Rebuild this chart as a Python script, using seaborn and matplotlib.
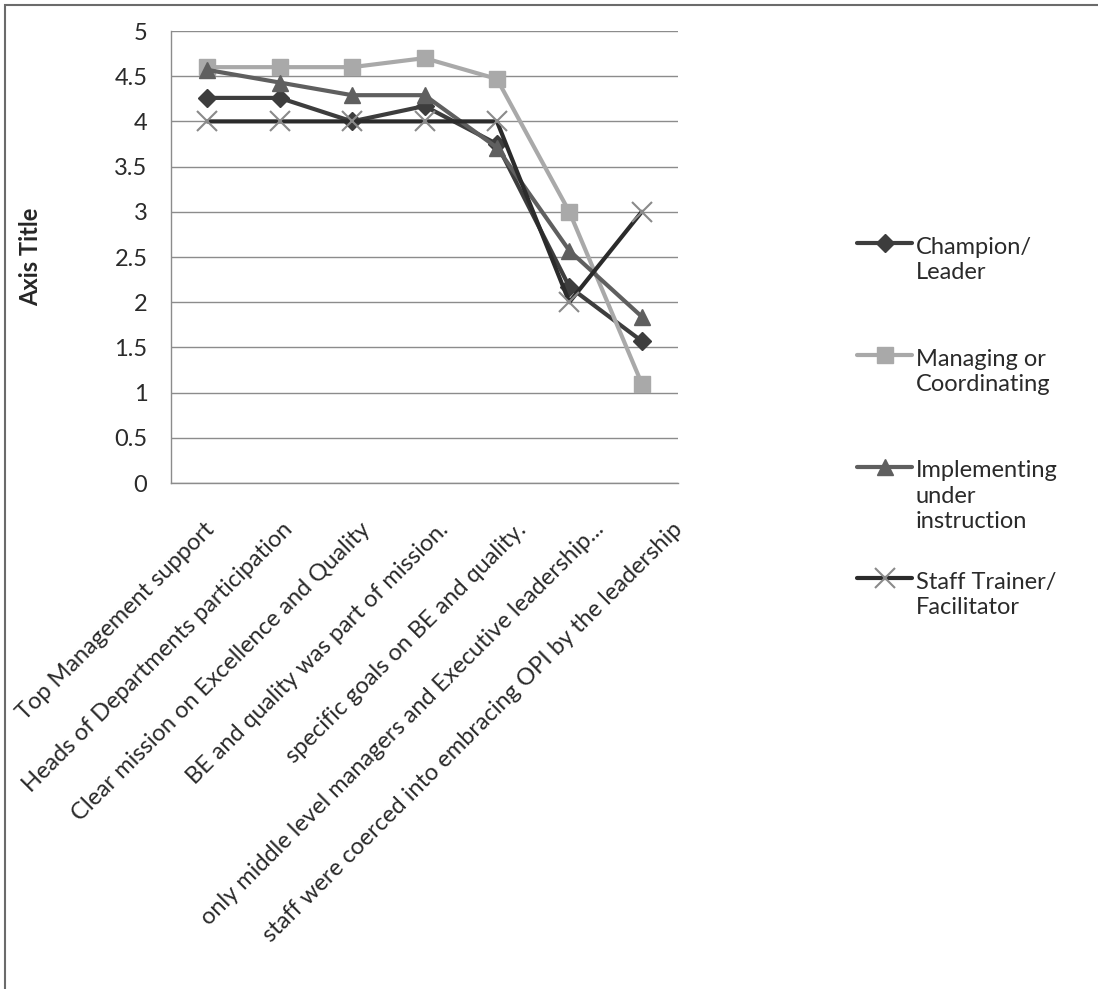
import numpy as np
import pandas as pd
import matplotlib
matplotlib.use('Agg')
import matplotlib.pyplot as plt
import matplotlib.transforms as mtransforms
from matplotlib.patches import Rectangle
from matplotlib.ticker import MultipleLocator, FuncFormatter
import seaborn as sns

# survey items (x categories)
categories = [
    'Top Management support',
    'Heads of Departments participation',
    'Clear mission on Excellence and Quality',
    'BE and quality was part of mission.',
    'specific goals on BE and quality.',
    'only middle level managers and Executive leadership...',
    'staff were coerced into embracing OPI by the leadership',
]

# roles (series) and mean scores
roles = ['Champion/\nLeader', 'Managing or\nCoordinating',
         'Implementing\nunder\ninstruction', 'Staff Trainer/\nFacilitator']
champion = [4.26, 4.26, 4.0, 4.17, 3.75, 2.17, 1.57]
managing = [4.6, 4.6, 4.6, 4.7, 4.47, 3.0, 1.1]
implementing = [4.57, 4.43, 4.29, 4.29, 3.71, 2.57, 1.84]
staff_trainer = [4.0, 4.0, 4.0, 4.0, 4.0, 2.0, 3.0]

colors = {roles[0]: '#3d3d3d', roles[1]: '#a9a9a9',
          roles[2]: '#5f5f5f', roles[3]: '#2b2b2b'}
markers = {roles[0]: 'D', roles[1]: 's', roles[2]: '^', roles[3]: 'x'}
marker_sizes = {roles[0]: 9, roles[1]: 12, roles[2]: 11, roles[3]: 14}

df = pd.DataFrame({
    'category': categories * 4,
    'score': champion + managing + implementing + staff_trainer,
    'role': np.repeat(roles, len(categories)),
})

sns.set_style('white')
plt.rcParams['font.family'] = ['Lato', 'DejaVu Sans']
plt.rcParams['text.color'] = '#2a2a2a'
plt.rcParams['xtick.color'] = '#2a2a2a'
plt.rcParams['ytick.color'] = '#2a2a2a'
fs = 17

fig = plt.figure(figsize=(10.98, 9.89), dpi=100, facecolor='white')
ax = fig.add_axes([171 / 1098, 1 - 483 / 989, 507 / 1098, 452 / 989])

sns.lineplot(data=df, x='category', y='score', hue='role',
             hue_order=roles, palette=colors, linewidth=3, sort=False,
             errorbar=None, legend=False, ax=ax)

# seaborn won't mix filled and line markers, so set them per line
for line, role in zip(ax.lines, roles):
    line.set_marker(markers[role])
    line.set_markersize(marker_sizes[role])
    if role == roles[3]:
        line.set_markeredgecolor('#8a8a8a')
        line.set_markeredgewidth(1.5)
    else:
        line.set_markeredgecolor(colors[role])
        line.set_markerfacecolor(colors[role])
        line.set_markeredgewidth(1)

ax.set_xlim(-0.5, len(categories) - 0.5)
ax.set_ylim(0, 5)
ax.yaxis.set_major_locator(MultipleLocator(0.5))
ax.yaxis.set_major_formatter(FuncFormatter(lambda v, p: f'{v:g}'))
ax.yaxis.grid(True, color='#8c8c8c', linewidth=1)
ax.set_axisbelow(True)
for side in ['top', 'right']:
    ax.spines[side].set_visible(False)
for side in ['left', 'bottom']:
    ax.spines[side].set_color('#8c8c8c')
    ax.spines[side].set_linewidth(1)

ax.tick_params(axis='y', length=0, pad=17, labelsize=fs)
ax.tick_params(axis='x', length=0, pad=31, labelsize=fs)
ax.set_xticks(range(len(categories)))
ax.set_xticklabels(categories, rotation=45, ha='right', va='center',
                   rotation_mode='anchor')
# labels drift a little to the right, like the original
for i, lab in enumerate(ax.get_xticklabels()):
    off = mtransforms.ScaledTranslation((4 + 5.5 * i) / 100, 0, fig.dpi_scale_trans)
    lab.set_transform(lab.get_transform() + off)

ax.set_xlabel('')
ax.set_ylabel('Axis Title', fontsize=fs, fontweight='bold')
ax.yaxis.set_label_coords(-0.254, 0.5)

# legend: pad all labels to three lines, put the handle on the first line
labels = [r + '\n' * (3 - len(r.split('\n'))) for r in roles]
leg = fig.legend(ax.lines, labels, loc='upper left',
                 bbox_to_anchor=(857 / 1098, 1 - 237 / 989),
                 frameon=False, borderpad=0, borderaxespad=0,
                 handlelength=2.33, handletextpad=0.15, labelspacing=1.7,
                 fontsize=fs)
for t in leg.get_texts():
    t.set_linespacing(1.25)
for h in leg.legend_handles:
    h.set_ydata(np.asarray(h.get_ydata()) + 1.25 * fs)

# outer chart border
fig.add_artist(Rectangle((5 / 1098, -0.05), 1.1, 1 - 5 / 989 + 0.05,
                         transform=fig.transFigure, fill=False,
                         edgecolor='#6b6b6b', linewidth=1.5))

plt.savefig('out.png', dpi=100, facecolor='white')
